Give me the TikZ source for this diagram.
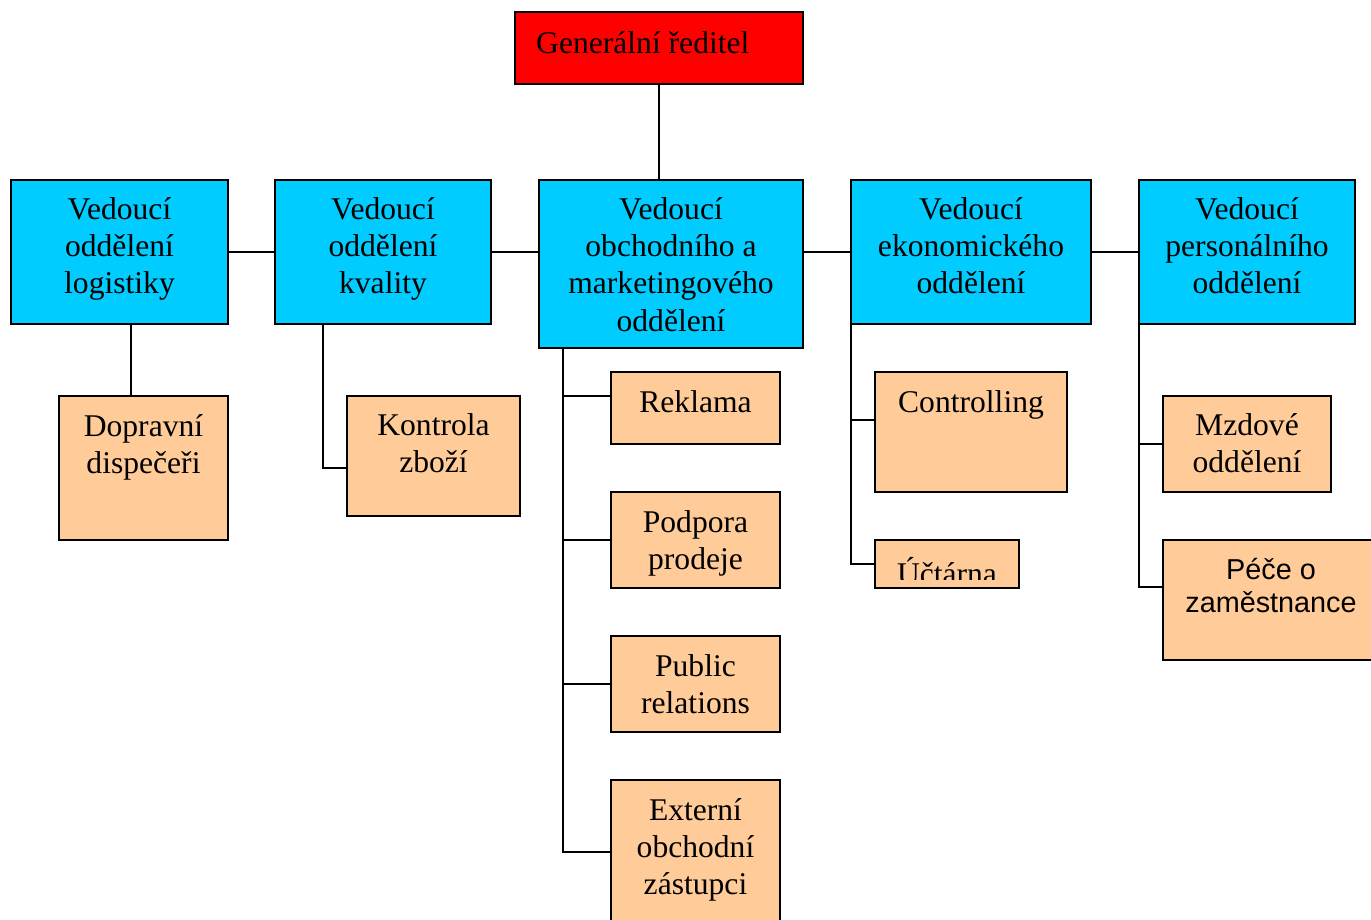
\documentclass[tikz,border=0pt]{standalone}
\usepackage{fontspec}
\setmainfont{Liberation Serif}
\newfontfamily\arialfont{Liberation Sans}
\definecolor{boxred}{RGB}{255,0,0}
\definecolor{boxcyan}{RGB}{0,204,255}
\definecolor{boxorange}{RGB}{255,204,153}
\begin{document}
\begin{tikzpicture}[x=1pt,y=-1pt,
  box/.style={draw=black, line width=2pt, inner sep=0pt, outer sep=0pt, anchor=north west},
  redbox/.style={box, fill=boxred},
  headbox/.style={box, fill=boxcyan},
  subbox/.style={box, fill=boxorange},
  lbl/.style={inner sep=0pt, anchor=north, align=center, font=\fontsize{31.6}{37.3}\selectfont},
  sanslbl/.style={inner sep=0pt, anchor=north, align=center, font=\arialfont\fontsize{28.8}{33}\selectfont},
  conn/.style={draw=black, line width=2pt}]
\useasboundingbox (0,0) rectangle (1371,919);
% boxes
\node[redbox, minimum width=288, minimum height=72] (gr) at (515,12) {};
\node[headbox, minimum width=217, minimum height=144] (log) at (11,180) {};
\node[headbox, minimum width=216, minimum height=144] (kval) at (275,180) {};
\node[headbox, minimum width=264, minimum height=168] (obch) at (539,180) {};
\node[headbox, minimum width=240, minimum height=144] (eko) at (851,180) {};
\node[headbox, minimum width=216, minimum height=144] (pers) at (1139,180) {};
\node[subbox, minimum width=169, minimum height=144] (dop) at (59,396) {};
\node[subbox, minimum width=173, minimum height=120] (kz) at (347,396) {};
\node[subbox, minimum width=169, minimum height=72] (rek) at (611,372) {};
\node[subbox, minimum width=169, minimum height=96] (pp) at (611,492) {};
\node[subbox, minimum width=169, minimum height=96] (pr) at (611,636) {};
\node[subbox, minimum width=169, minimum height=144] (ext) at (611,780) {};
\node[subbox, minimum width=192, minimum height=120] (ctrl) at (875,372) {};
\node[subbox, minimum width=144, minimum height=48] (uct) at (875,540) {};
\node[subbox, minimum width=168, minimum height=96] (mz) at (1163,396) {};
\node[subbox, minimum width=216, minimum height=120] (pece) at (1163,540) {};
% texts
\node[lbl, anchor=base west] (grT) at (536,53) {Generální ředitel};
\node[lbl] (logT) at (119.5,192.9) {\strut Vedoucí\\oddělení\\logistiky};
\node[lbl] (kvalT) at (383,192.9) {\strut Vedoucí\\oddělení\\kvality};
\node[lbl] (obchT) at (671,192.9) {\strut Vedoucí\\obchodního a\\marketingového\\oddělení};
\node[lbl] (ekoT) at (971,192.9) {\strut Vedoucí\\ekonomického\\oddělení};
\node[lbl] (persT) at (1247,192.9) {\strut Vedoucí\\personálního\\oddělení};
\node[lbl] (dopT) at (143.5,409.9) {\strut Dopravní\\dispečeři};
\node[lbl] (kzT) at (433.5,408.9) {\strut Kontrola\\zboží};
\node[lbl] (rekT) at (695.5,385.9) {\strut Reklama};
\node[lbl] (ppT) at (695.5,505.9) {\strut Podpora\\prodeje};
\node[lbl] (prT) at (695.5,649.9) {\strut Public\\relations};
\node[lbl] (extT) at (695.5,793.9) {\strut Externí\\obchodní\\zástupci};
\node[lbl] (ctrlT) at (971,385.9) {\strut Controlling};
\begin{scope}
\clip (876,541) rectangle (1018,579);
\node[lbl] (uctT) at (947,556.9) {\strut Účtárna};
\end{scope}
\node[lbl] (mzT) at (1247,408.9) {\strut Mzdové\\oddělení};
\node[sanslbl] (peceT) at (1271,555.9) {\strut Péče o\\zaměstnance};
% connectors
\draw[conn] (gr.south) -- (gr.south |- obch.north);
\draw[conn] (log.east) -- (kval.west);
\draw[conn] (kval.east) -- (kval.east -| obch.west);
\draw[conn] (obch.east |- eko.west) -- (eko.west);
\draw[conn] (eko.east) -- (pers.west);
\draw[conn] ([xshift=11.5pt]log.south) -- ([xshift=11.5pt]log.south |- dop.north);
\draw[conn] ([xshift=48pt]kval.south west) |- ([yshift=-12pt]kz.west);
\coordinate (ot) at ([xshift=24pt]obch.south west);
\draw[conn] (ot) |- (ext.west);
\draw[conn] ([yshift=12pt]rek.west) -- ++(-48,0);
\draw[conn] (pp.west) -- ++(-48,0);
\draw[conn] (pr.west) -- ++(-48,0);
\draw[conn] (eko.south west) |- (uct.west);
\draw[conn] ([yshift=12pt]ctrl.west) -- ++(-24,0);
\draw[conn] (pers.south west) |- ([yshift=13pt]pece.west);
\draw[conn] (mz.west) -- ++(-24,0);
\end{tikzpicture}
\end{document}
